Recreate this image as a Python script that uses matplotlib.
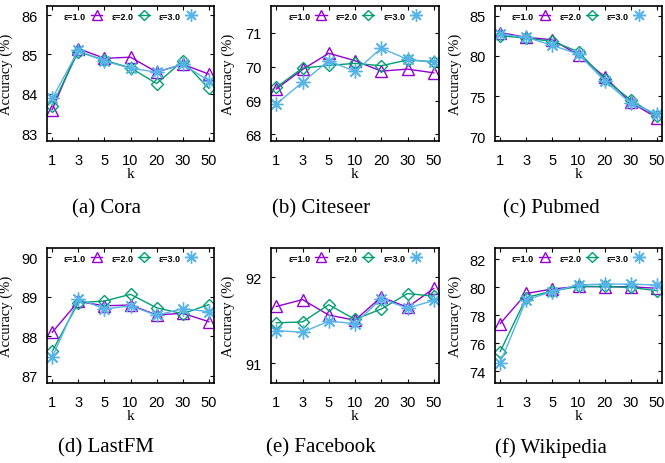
import matplotlib
matplotlib.use("Agg")
import matplotlib.pyplot as plt
from matplotlib import font_manager

# tick labels: narrow sans if available, serif for axis labels / captions
available = {f.name for f in font_manager.fontManager.ttflist}
TICK_FONT = "Liberation Sans Narrow" if "Liberation Sans Narrow" in available else "Liberation Sans"
SERIF = "Liberation Serif"

plt.rcParams["font.family"] = TICK_FONT
plt.rcParams["axes.unicode_minus"] = False

K_LABELS = ["1", "3", "5", "10", "20", "30", "50"]
EPS_LABELS = ["ε=1.0", "ε=2.0", "ε=3.0"]

DATASETS = ["(a) Cora", "(b) Citeseer", "(c) Pubmed",
            "(d) LastFM", "(e) Facebook", "(f) Wikipedia"]

cora_e1 = [83.60, 85.15, 84.90, 84.93, 84.55, 84.75, 84.50]
cora_e2 = [83.70, 85.07, 84.85, 84.66, 84.26, 84.83, 84.14]
cora_e3 = [83.88, 85.10, 84.83, 84.65, 84.55, 84.75, 84.33]

citeseer_e1 = [69.34, 69.92, 70.40, 70.18, 69.87, 69.93, 69.82]
citeseer_e2 = [69.39, 69.96, 70.04, 70.10, 70.03, 70.20, 70.15]
citeseer_e3 = [68.90, 69.54, 70.18, 69.86, 70.55, 70.22, 70.13]

pubmed_e1 = [82.9, 82.3, 82.0, 80.1, 77.4, 74.2, 72.3]
pubmed_e2 = [82.5, 82.2, 81.8, 80.5, 77.1, 74.5, 72.5]
pubmed_e3 = [82.7, 82.3, 81.3, 80.2, 76.9, 74.1, 72.8]

lastfm_e1 = [88.10, 88.88, 88.77, 88.79, 88.54, 88.58, 88.37]
lastfm_e2 = [87.62, 88.85, 88.89, 89.06, 88.72, 88.57, 88.80]
lastfm_e3 = [87.47, 88.95, 88.69, 88.77, 88.53, 88.70, 88.62]

facebook_e1 = [91.66, 91.74, 91.56, 91.50, 91.77, 91.65, 91.87]
facebook_e2 = [91.47, 91.48, 91.68, 91.51, 91.63, 91.81, 91.78]
facebook_e3 = [91.38, 91.36, 91.49, 91.46, 91.75, 91.64, 91.73]

wiki_e1 = [77.40, 79.55, 79.87, 80.05, 80.03, 80.03, 79.92]
wiki_e2 = [75.40, 79.26, 79.73, 80.05, 80.05, 79.98, 79.75]
wiki_e3 = [74.60, 79.10, 79.68, 80.17, 80.22, 80.22, 80.15]

SERIES = [
    (cora_e1, cora_e2, cora_e3),
    (citeseer_e1, citeseer_e2, citeseer_e3),
    (pubmed_e1, pubmed_e2, pubmed_e3),
    (lastfm_e1, lastfm_e2, lastfm_e3),
    (facebook_e1, facebook_e2, facebook_e3),
    (wiki_e1, wiki_e2, wiki_e3),
]

YLIMS = [(82.8, 86.23), (67.8, 71.8), (69.4, 86.2),
         (86.82, 90.23), (90.77, 92.34), (73.15, 82.8)]
YTICKS = [[83, 84, 85, 86], [68, 69, 70, 71], [70, 75, 80, 85],
          [87, 88, 89, 90], [91, 92], [74, 76, 78, 80, 82]]

COLORS = ["#9400D3", "#009E73", "#56B4E9"]
MARKERS = ["^", "D", (8, 2, 0)]
MSIZES = [8, 6, 10]

W, H = 665, 464
# axes boxes in pixels: left, right ; rows: top, bottom
COLS = [(47, 214), (271, 439), (495, 662)]
ROWS = [(7, 142), (249, 384)]
CAPTION_X = [106, 321, 551]
CAPTION_Y = [209, 448]
YLABEL_X = [13, 235, 462]

fig = plt.figure(figsize=(W / 100, H / 100), dpi=100)
x = list(range(len(K_LABELS)))

for i, name in enumerate(DATASETS):
    r, c = divmod(i, 3)
    l, rt = COLS[c]
    t, b = ROWS[r]
    ax = fig.add_axes([l / W, 1 - b / H, (rt - l) / W, (b - t) / H])

    for j, vals in enumerate(SERIES[i]):
        ax.plot(x, vals, color=COLORS[j], lw=1.0, marker=MARKERS[j],
                ms=MSIZES[j], mfc="none", mec=COLORS[j], mew=1.0,
                label=EPS_LABELS[j])

    ax.set_xlim(-0.2, 6.2)
    ax.set_ylim(*YLIMS[i])
    ax.set_xticks(x)
    ax.set_xticklabels(K_LABELS)
    ax.set_yticks(YTICKS[i])
    ax.tick_params(direction="in", top=True, right=True, length=3,
                   labelsize=10.5, width=0.8)
    ax.tick_params(axis="x", pad=9)
    ax.tick_params(axis="y", pad=7)
    for s in ax.spines.values():
        s.set_linewidth(1.2)

    ax.set_xlabel("k", fontfamily=SERIF, fontsize=11, labelpad=0)
    ax.set_ylabel("Accuracy (%)", fontfamily=SERIF, fontsize=10.5)
    ax.yaxis.set_label_coords((YLABEL_X[c] - l) / (rt - l), 0.5)

    ax.legend(loc="center", bbox_to_anchor=(0.5, 1 - 10 / (b - t)), ncol=3,
              markerfirst=False, frameon=False, handlelength=1.3,
              handletextpad=0.5, columnspacing=1.0, borderaxespad=0,
              borderpad=0, markerscale=0.9,
              prop={"family": TICK_FONT, "weight": "bold", "size": 6.5})

    fig.text(CAPTION_X[c] / W, 1 - CAPTION_Y[r] / H, name, ha="center",
             va="center", fontfamily=SERIF, fontsize=15)

fig.savefig("out.png", dpi=100)
